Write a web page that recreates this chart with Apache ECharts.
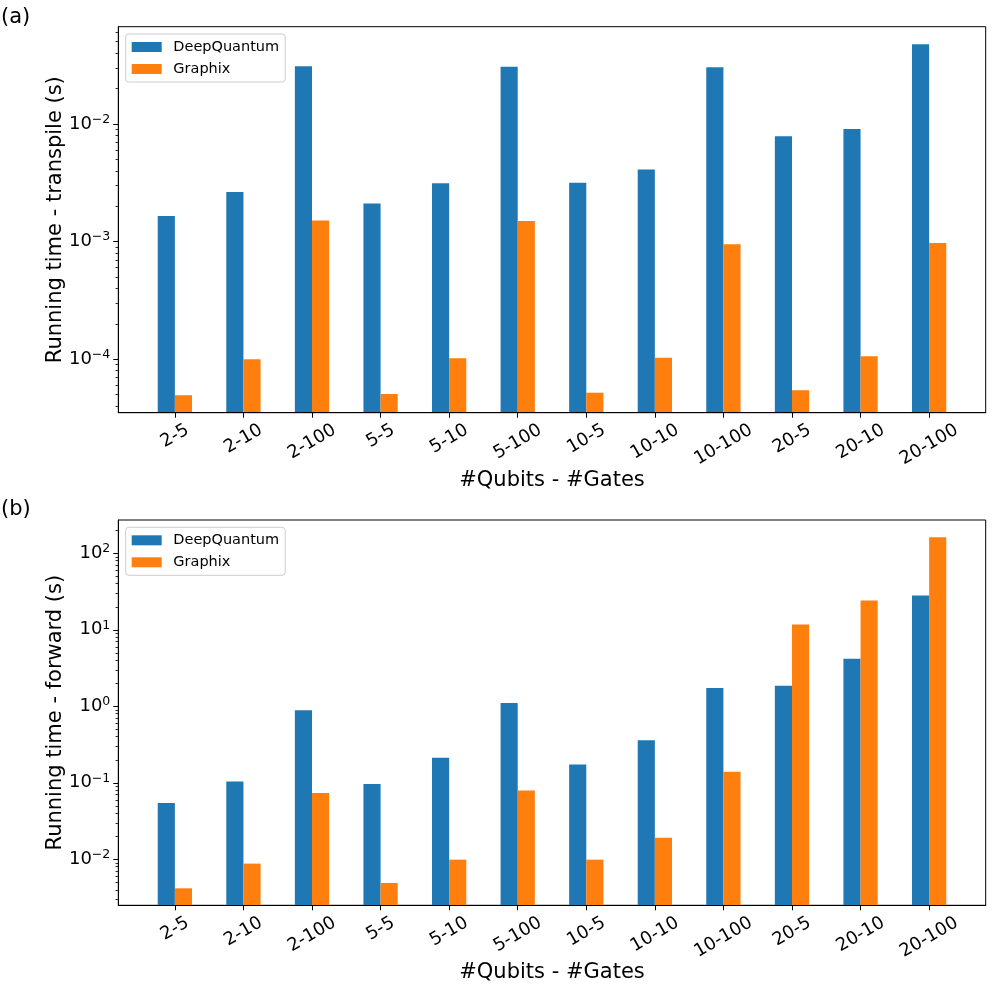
<!DOCTYPE html>
<html><head><meta charset="utf-8">
<script src="https://cdn.jsdelivr.net/npm/echarts@6/dist/echarts.min.js"></script>
<style>html,body{margin:0;padding:0;background:#fff}#c{width:996px;height:996px}</style>
</head><body><div id="c"></div>
<script>
const categories = ['2-5','2-10','2-100','5-5','5-10','5-100','10-5','10-10','10-100','20-5','20-10','20-100'];
const transpileDeepQuantum = [1.65e-3, 2.64e-3, 3.10e-2, 2.11e-3, 3.13e-3, 3.06e-2, 3.16e-3, 4.11e-3, 3.03e-2, 7.85e-3, 9.06e-3, 4.75e-2];
const transpileGraphix     = [4.95e-5, 1.00e-4, 1.51e-3, 5.07e-5, 1.02e-4, 1.50e-3, 5.20e-5, 1.03e-4, 9.48e-4, 5.46e-5, 1.06e-4, 9.73e-4];
const forwardDeepQuantum   = [0.0546, 0.1037, 0.887, 0.0968, 0.213, 1.107, 0.173, 0.36, 1.74, 1.86, 4.17, 28.0];
const forwardGraphix       = [4.18e-3, 8.79e-3, 0.0738, 4.91e-3, 9.9e-3, 0.0791, 9.9e-3, 0.0192, 0.14, 11.7, 24.1, 161.8];
const transpileMajorTicks = [1e-4, 1e-3, 1e-2];
const forwardMajorTicks = [1e-2, 1e-1, 1, 10, 100];
const transpileRange = [3.516e-5, 0.0671];
const forwardRange = [2.506e-3, 272.3];
const xRange = [-0.825, 11.825];
const seriesNames = ['DeepQuantum', 'Graphix'];
const yTitles = ['Running time - transpile (s)', 'Running time - forward (s)'];
const xTitle = '#Qubits - #Gates';
const panelLabels = ['(a)', '(b)'];

const FONT = 'DejaVu Sans';
const BLUE = '#1f77b4', ORANGE = '#ff7f0e';
const panels = [
  {rect:{left:118.3, top:26.7, width:867.4, height:386}, range:transpileRange, majors:transpileMajorTicks, a:transpileDeepQuantum, b:transpileGraphix, labelTop:7, legendTop:34},
  {rect:{left:118.3, top:520, width:867.4, height:385.3}, range:forwardRange, majors:forwardMajorTicks, a:forwardDeepQuantum, b:forwardGraphix, labelTop:499, legendTop:527.3}
];

function minorTicks(lo, hi) {
  const out = [];
  for (let e = Math.floor(Math.log10(lo)); e <= Math.ceil(Math.log10(hi)); e++)
    for (let m = 2; m <= 9; m++) { const v = m * Math.pow(10, e); if (v > lo && v < hi) out.push(v); }
  return out;
}
const idx = categories.map((c, i) => i);
function sup(v) {
  const e = Math.round(Math.log10(v));
  return '{b|10}{s|' + (e < 0 ? '\u2212' + (-e) : String(e)) + '}';
}
const dShift = n => 2.86 * (n - 3);
const xRich = {};
[3,4,5,6].forEach(n => {
  xRich['l' + n] = {fontSize:18, fontFamily:FONT, color:'#000', padding:[1.732 * dShift(n), dShift(n), 0, 0]};
});

const grid = [], xAxis = [], yAxis = [], series = [], legend = [], title = [];
panels.forEach((p, k) => {
  grid.push(Object.assign({show:true, borderColor:'#000', borderWidth:1, backgroundColor:'transparent'}, p.rect));
  grid.push(Object.assign({show:false}, p.rect));
  const gMain = 2 * k, gOver = 2 * k + 1;
  xAxis.push({
    type:'value', gridIndex:gMain, min:xRange[0], max:xRange[1], z:5, position:'bottom',
    axisLine:{show:true, onZero:false, lineStyle:{color:'#000', width:1}},
    axisTick:{show:true, customValues:idx, length:5, lineStyle:{color:'#000', width:1}},
    axisLabel:{customValues:idx, rotate:30, align:'center', verticalAlign:'middle', margin:23.5,
      fontSize:18, fontFamily:FONT, color:'#000',
      formatter: v => { const s = categories[Math.round(v)]; return '{l' + s.length + '|' + s + '}'; },
      rich:xRich},
    splitLine:{show:false},
    name:xTitle, nameLocation:'middle', nameGap:57, nameMoveOverlap:false,
    nameTextStyle:{fontSize:21, fontFamily:FONT, color:'#000'}
  });
  xAxis.push({type:'value', gridIndex:gOver, min:xRange[0], max:xRange[1], show:false, axisLine:{onZero:false}});
  yAxis.push({
    type:'log', logBase:10, gridIndex:gMain, min:p.range[0], max:p.range[1], startValue:p.range[0], z:5, position:'left',
    axisLine:{show:true, onZero:false, lineStyle:{color:'#000', width:1}},
    axisTick:{show:true, customValues:p.majors, length:5, lineStyle:{color:'#000', width:1}},
    axisLabel:{customValues:p.majors, margin:8, formatter:sup, color:'#000',
      rich:{b:{fontSize:18, fontFamily:FONT, color:'#000'}, s:{fontSize:12.5, fontFamily:FONT, color:'#000', padding:[0,0,9,0]}}},
    splitLine:{show:false},
    name:yTitles[k], nameLocation:'middle', nameGap:52.5, nameRotate:90, nameMoveOverlap:false,
    nameTextStyle:{fontSize:21, fontFamily:FONT, color:'#000'}
  });
  yAxis.push({
    type:'log', logBase:10, gridIndex:gOver, min:p.range[0], max:p.range[1], position:'left', z:5,
    axisLine:{show:false, onZero:false},
    axisTick:{show:true, customValues:minorTicks(p.range[0], p.range[1]), length:2.8, lineStyle:{color:'#000', width:0.8}},
    axisLabel:{show:false}, splitLine:{show:false}
  });
  series.push({type:'bar', name:seriesNames[0], xAxisIndex:gMain, yAxisIndex:gMain,
    data:p.a.map((v, i) => [i, v]), barWidth:'25%', barGap:'0%', itemStyle:{color:BLUE}});
  series.push({type:'bar', name:seriesNames[1], xAxisIndex:gMain, yAxisIndex:gMain,
    data:p.b.map((v, i) => [i, v]), barWidth:'25%', barGap:'0%', itemStyle:{color:ORANGE}});
  legend.push({
    data:seriesNames, orient:'vertical', left:125.7, top:p.legendTop,
    icon:'rect', itemWidth:30, itemHeight:10, itemGap:6, padding:[5,6,5,6],
    backgroundColor:'rgba(255,255,255,0.8)', borderColor:'#cccccc', borderWidth:1, borderRadius:3,
    selectedMode:false,
    textStyle:{fontSize:14.5, fontFamily:FONT, color:'#000', lineHeight:16, padding:[0,0,0,6.6]}
  });
  title.push({text:panelLabels[k], left:1, top:p.labelTop, padding:0,
    textStyle:{fontSize:21, fontWeight:'normal', fontFamily:FONT, color:'#000'}});
});

const chart = echarts.init(document.getElementById('c'), null, {renderer:'canvas'});
chart.setOption({animation:false, backgroundColor:'#fff', title, legend, grid, xAxis, yAxis, series});
</script>
</body></html>
